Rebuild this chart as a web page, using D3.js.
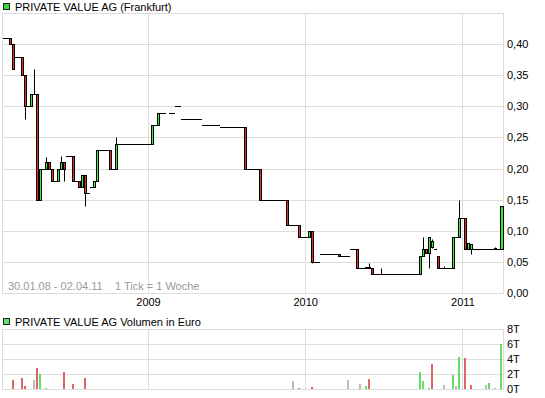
<!DOCTYPE html>
<html>
<head>
<meta charset="utf-8">
<script src="https://cdn.jsdelivr.net/npm/d3@7"></script>
<style>
body { margin: 0; background: #fff; }
svg { display: block; font-family: Arial, "Liberation Sans", sans-serif; font-size: 11px; }
</style>
</head>
<body>
<svg id="chart" width="545" height="398"></svg>
<script>
// week 0 = Monday 28.01.2008, one tick = one week
var firstWeek = new Date(2008, 0, 28);
var lastWeek = new Date(2011, 3, 4);

// [week, open, high, low, close]
var candles = [
	[2, 0.41, 0.41, 0.40, 0.40], [3, 0.40, 0.40, 0.36, 0.36],
	[6, 0.38, 0.38, 0.35, 0.35], [7, 0.35, 0.35, 0.28, 0.30],
	[9, 0.30, 0.32, 0.30, 0.32], [10, 0.32, 0.36, 0.32, 0.32],
	[11, 0.32, 0.32, 0.15, 0.15], [12, 0.15, 0.20, 0.15, 0.20],
	[14, 0.20, 0.218, 0.20, 0.21], [15, 0.21, 0.21, 0.20, 0.20],
	[16, 0.20, 0.20, 0.18, 0.18], [18, 0.18, 0.20, 0.18, 0.20],
	[19, 0.20, 0.22, 0.20, 0.21], [20, 0.21, 0.21, 0.18, 0.20],
	[23, 0.22, 0.22, 0.18, 0.18], [25, 0.18, 0.18, 0.17, 0.17],
	[26, 0.17, 0.19, 0.17, 0.19], [27, 0.19, 0.19, 0.14, 0.16],
	[30, 0.17, 0.18, 0.17, 0.18], [31, 0.18, 0.23, 0.18, 0.23],
	[35, 0.23, 0.23, 0.20, 0.20], [37, 0.20, 0.25, 0.20, 0.24],
	[49, 0.24, 0.27, 0.24, 0.27], [51, 0.27, 0.29, 0.27, 0.29],
	[80, 0.267, 0.267, 0.20, 0.20], [85, 0.20, 0.20, 0.15, 0.15],
	[94, 0.15, 0.15, 0.11, 0.11], [98, 0.11, 0.11, 0.09, 0.09],
	[101, 0.09, 0.10, 0.09, 0.10], [102, 0.10, 0.10, 0.049, 0.05],
	[111, 0.062, 0.062, 0.06, 0.06], [117, 0.07, 0.07, 0.04, 0.04],
	[120, 0.04, 0.042, 0.04, 0.042], [121, 0.042, 0.049, 0.04, 0.04],
	[122, 0.04, 0.04, 0.03, 0.03], [125, 0.03, 0.04, 0.03, 0.03],
	[138, 0.03, 0.06, 0.03, 0.06], [139, 0.06, 0.09, 0.06, 0.07],
	[140, 0.07, 0.07, 0.064, 0.064], [141, 0.064, 0.09, 0.04, 0.09],
	[142, 0.074, 0.087, 0.072, 0.084], [144, 0.06, 0.06, 0.04, 0.04],
	[146, 0.04, 0.043, 0.04, 0.04], [149, 0.04, 0.09, 0.04, 0.09],
	[151, 0.09, 0.15, 0.09, 0.12], [153, 0.12, 0.12, 0.07, 0.07],
	[154, 0.07, 0.08, 0.07, 0.08], [155, 0.07, 0.078, 0.063, 0.078],
	[161, 0.07, 0.071, 0.07, 0.071], [163, 0.073, 0.074, 0.071, 0.071],
	[165, 0.071, 0.14, 0.071, 0.14]
];

// weeks without movement: [fromWeek, toWeek, price]
var flats = [
	[0, 1, 0.41], [4, 5, 0.38], [8, 8, 0.30], [13, 13, 0.20], [17, 17, 0.18],
	[21, 22, 0.22], [24, 24, 0.18], [28, 28, 0.16], [29, 29, 0.17],
	[32, 34, 0.23], [36, 36, 0.20], [38, 48, 0.24], [50, 50, 0.27],
	[52, 53, 0.29], [55, 56, 0.29], [57, 58, 0.30], [59, 65, 0.28],
	[66, 71, 0.27], [72, 79, 0.267], [81, 84, 0.20], [86, 93, 0.15],
	[95, 97, 0.11], [99, 100, 0.09], [103, 104, 0.05], [105, 110, 0.062],
	[112, 114, 0.06], [115, 116, 0.07], [118, 119, 0.04], [123, 124, 0.03],
	[126, 137, 0.03], [143, 143, 0.07], [145, 145, 0.04], [147, 148, 0.04],
	[150, 150, 0.09], [152, 152, 0.12], [156, 160, 0.07], [162, 162, 0.071],
	[164, 164, 0.071]
];

// volume in thousand euro: [week, value]
var volumes = [
	[3, 1.15], [6, 1.5], [7, 0.44], [10, 1.16], [11, 2.84], [12, 2.04],
	[14, 0.17], [20, 2.3], [23, 0.7], [27, 1.5], [96, 1.1], [98, 0.17],
	[102, 0.3], [114, 1.24], [118, 0.7], [120, 0.44], [121, 1.37],
	[138, 2.3], [139, 1.1], [141, 0.17], [142, 3.37], [146, 0.57],
	[149, 1.9], [150, 0.44], [151, 4.3], [153, 4.17], [155, 0.57],
	[160, 0.57], [161, 0.84], [163, 0.17], [165, 6.05]
];

var priceTicks = [0, 0.05, 0.10, 0.15, 0.20, 0.25, 0.30, 0.35, 0.40];
var volumeTicks = [0, 2, 4, 6, 8];
var years = [2009, 2010, 2011];

var svg = d3.select('#chart');
var left = 2.5, right = 503;

var x = d3.scaleTime().domain([firstWeek, lastWeek]).range([left, right]);
var y = d3.scaleLinear().domain([0, 0.45]).range([293, 13]);
var yv = d3.scaleLinear().domain([0, 8]).range([389, 329]);

function wx(w) {
	return Math.round(x(d3.timeDay.offset(firstWeek, 7 * w)) + 0.5);
}
function py(v) { return Math.round(y(v)) + 0.5; }

var fmt = function (d) { return d3.format('.2f')(d).replace('.', ','); };

// ---------- panels ----------
function panel(top, bottom, scale, ticks, label) {
	var g = svg.append('g');
	g.selectAll('line.h').data(ticks).enter().append('line')
		.attr('x1', left).attr('x2', right + 0.5)
		.attr('y1', function (d) { return Math.round(scale(d)) + 0.5; })
		.attr('y2', function (d) { return Math.round(scale(d)) + 0.5; })
		.attr('stroke', '#dcdcdc');
	g.selectAll('line.v').data(years).enter().append('line')
		.attr('x1', function (d) { return Math.floor(x(new Date(d, 0, 1))) + 0.5; })
		.attr('x2', function (d) { return Math.floor(x(new Date(d, 0, 1))) + 0.5; })
		.attr('y1', top).attr('y2', bottom)
		.attr('stroke', '#dcdcdc');
	g.append('rect')
		.attr('x', left).attr('y', top + 0.5)
		.attr('width', right + 0.5 - left).attr('height', bottom - top)
		.attr('fill', 'none').attr('stroke', '#dcdcdc');
	g.selectAll('text').data(ticks).enter().append('text')
		.attr('x', 507)
		.attr('y', function (d) { return Math.round(scale(d)) + 4; })
		.text(label);
}
panel(13, 293, y, priceTicks.concat([0.45]), function (d) { return d > 0.41 ? '' : fmt(d); });
panel(329, 389, yv, volumeTicks, function (d) { return d + 'T'; });

// x labels
svg.selectAll('text.year').data(years).enter().append('text')
	.attr('class', 'year')
	.attr('x', function (d) { return x(new Date(d, 0, 1)); })
	.attr('y', 306)
	.attr('text-anchor', 'middle')
	.text(function (d) { return d; });

svg.append('text').attr('x', 8).attr('y', 290).attr('fill', '#999').text('30.01.08 - 02.04.11');
svg.append('text').attr('x', 115).attr('y', 290).attr('fill', '#999').text('1 Tick = 1 Woche');

// titles
svg.append('rect').attr('x', 3.5).attr('y', 3.5).attr('width', 6).attr('height', 6)
	.attr('fill', '#33dd33').attr('stroke', '#222');
svg.append('text').attr('x', 15).attr('y', 11).text('PRIVATE VALUE AG (Frankfurt)');
svg.append('rect').attr('x', 3.5).attr('y', 318.5).attr('width', 6).attr('height', 6)
	.attr('fill', '#66dd66').attr('stroke', '#222');
svg.append('text').attr('x', 15).attr('y', 326).text('PRIVATE VALUE AG Volumen in Euro');

// ---------- price ----------
var price = svg.append('g');

price.selectAll('line.flat').data(flats).enter().append('line')
	.attr('x1', function (d) { return wx(d[0]); })
	.attr('x2', function (d) { return wx(d[1] + 1); })
	.attr('y1', function (d) { return py(d[2]); })
	.attr('y2', function (d) { return py(d[2]); })
	.attr('stroke', '#000');

var c = price.selectAll('g.candle').data(candles).enter().append('g');

c.append('line')
	.attr('x1', function (d) { return wx(d[0]) + 1.5; })
	.attr('x2', function (d) { return wx(d[0]) + 1.5; })
	.attr('y1', function (d) { return py(d[2]); })
	.attr('y2', function (d) { return py(d[3]); })
	.attr('stroke', '#000');

// candles without body just get a horizontal stroke
c.filter(function (d) { return Math.round(y(d[1])) === Math.round(y(d[4])); })
	.append('line')
	.attr('x1', function (d) { return wx(d[0]); })
	.attr('x2', function (d) { return wx(d[0] + 1); })
	.attr('y1', function (d) { return py(d[4]); })
	.attr('y2', function (d) { return py(d[4]); })
	.attr('stroke', '#000');

c.filter(function (d) { return Math.round(y(d[1])) !== Math.round(y(d[4])); })
	.append('rect')
	.attr('x', function (d) { return wx(d[0]) + 0.5; })
	.attr('width', function (d) { return wx(d[0] + 1) - wx(d[0]) - 1; })
	.attr('y', function (d) { return py(Math.max(d[1], d[4])); })
	.attr('height', function (d) { return py(Math.min(d[1], d[4])) - py(Math.max(d[1], d[4])); })
	.attr('fill', function (d) { return d[4] > d[1] ? '#33ee33' : '#f02a2a'; })
	.attr('stroke', '#000');

// ---------- volume ----------
var closeOf = {};
flats.forEach(function (f) { for (var w = f[0]; w <= f[1]; w++) closeOf[w] = f[2]; });
candles.forEach(function (d) { closeOf[d[0]] = d[4]; });

function volColor(w) {
	var prev = closeOf[w - 1], cur = closeOf[w];
	if (prev === undefined || cur === prev) return '#bbbbbb';
	return cur > prev ? '#66dd66' : '#dd6666';
}

svg.append('g').selectAll('rect').data(volumes).enter().append('rect')
	.attr('x', function (d) { return wx(d[0]); })
	.attr('width', 2)
	.attr('y', function (d) { return Math.round(yv(d[1])); })
	.attr('height', function (d) { return 389 - Math.round(yv(d[1])); })
	.attr('fill', function (d) { return volColor(d[0]); });
</script>
</body>
</html>
